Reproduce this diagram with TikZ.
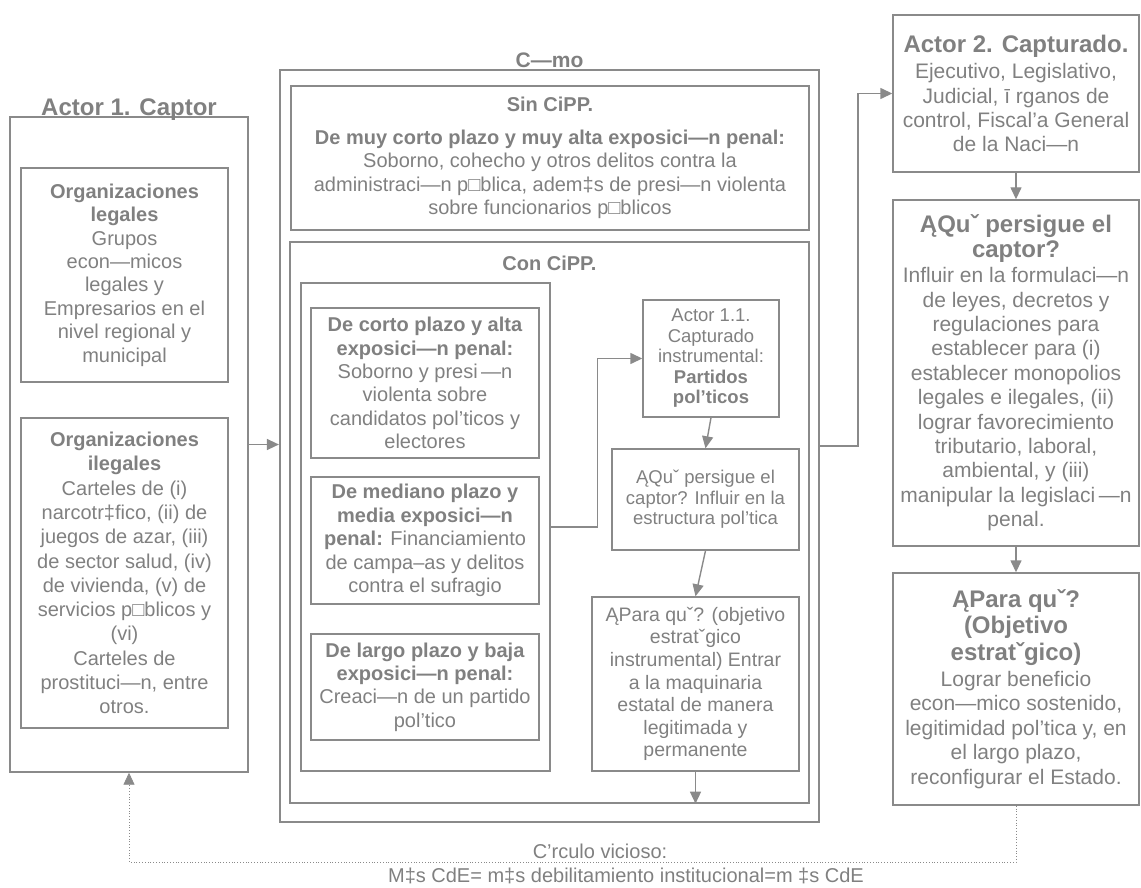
\documentclass[tikz,border=0pt]{standalone}
\usepackage{fontspec}
\setmainfont{Liberation Sans}
\usetikzlibrary{arrows.meta,positioning,calc}

\definecolor{tgris}{HTML}{808080}
\definecolor{lgris}{HTML}{8A8A8A}
\newcommand{\cuerpo}{\fontsize{20}{23.4}\selectfont}
\newcommand{\cuerpoan}{\fontsize{20}{24.3}\selectfont}
\newcommand{\chico}{\fontsize{18.5}{20.5}\selectfont}
\newcommand{\medio}{\fontsize{19.5}{22.6}\selectfont}
\newcommand{\dere}{\fontsize{21}{24.4}\selectfont}
\newcommand{\titgr}{\bfseries\fontsize{24}{26}\selectfont}

\begin{document}
\begin{tikzpicture}[x=1pt,y=-1pt,
  caja/.style={draw=lgris, line width=1.4pt, inner sep=0pt, align=center, text=tgris, font=\cuerpo},
  titulo/.style={text=tgris, inner sep=0pt, anchor=base},
  flecha/.style={draw=lgris, line width=1.4pt, -{Triangle[length=12pt,width=11pt]}},
  punteada/.style={draw=lgris, line width=0.8pt, dotted, -{Triangle[length=12pt,width=11pt]}}]

 \useasboundingbox (0,0) rectangle (1141,888);

 % Actor 1
 \node[caja, minimum width=238, minimum height=655] (actor1) at (129,444.5) {};
 \node[titulo, font=\titgr] (titactor1) at (129,116) {Actor 1. Captor};
 \node[caja, minimum width=207, minimum height=214] (legales) at (124.5,275)
  {\textbf{Organizaciones}\\\textbf{legales}\\Grupos\\econ—micos\\legales y\\Empresarios en el\\nivel regional y\\municipal};
 \node[caja, font=\cuerpoan, minimum width=207, minimum height=310] (ilegales) at (124.5,573)
  {\textbf{Organizaciones}\\\textbf{ilegales}\\Carteles de (i)\\narcotr‡fico, (ii) de\\juegos de azar, (iii)\\de sector salud, (iv)\\de vivienda, (v) de\\servicios p□blicos y\\(vi)\\Carteles de\\prostituci—n, entre\\otros.};

 % Como
 \node[caja, line width=2.2pt, minimum width=539, minimum height=752] (como) at (549.5,446) {};
 \node[titulo, font=\bfseries\fontsize{21}{24}\selectfont] (titcomo) at (549.5,68) {C—mo};
 \node[caja, minimum width=518, minimum height=144] (sincipp) at (550,158)
  {\textbf{Sin CiPP.}\\[9pt]\textbf{De muy corto plazo y muy alta exposici—n penal:}\\Soborno, cohecho y otros delitos contra la\\administraci—n p□blica, adem‡s de presi—n violenta\\sobre funcionarios p□blicos};
 \node[caja, minimum width=519, minimum height=561] (concipp) at (549.5,522.5) {};
 \node[titulo, font=\bfseries\cuerpo] (titcon) at (549.5,270) {Con CiPP.};

 \node[caja, minimum width=249, minimum height=488] (grupo) at (425.5,527) {};
 \node[caja, minimum width=228, minimum height=150] (corto) at (425,383)
  {\textbf{De corto plazo y alta}\\\textbf{exposici—n penal:}\\Soborno y presi\,—n\\violenta sobre\\candidatos pol’ticos y\\electores};
 \node[caja, minimum width=228, minimum height=127] (mediano) at (425,540.5)
  {\textbf{De mediano plazo y}\\\textbf{media exposici—n}\\\textbf{penal:} Financiamiento\\de campa–as y delitos\\contra el sufragio};
 \node[caja, minimum width=228, minimum height=106] (largo) at (425,687)
  {\textbf{De largo plazo y baja}\\\textbf{exposici—n penal:}\\Creaci—n de un partido\\pol’tico};

 \node[caja, font=\chico, minimum width=136, minimum height=117] (actor11) at (711,358.5)
  {Actor 1.1.\\Capturado\\instrumental:\\\textbf{Partidos}\\\textbf{pol’ticos}};
 \node[caja, font=\chico, minimum width=187, minimum height=101] (quecap) at (705.5,499.5)
  {ĄQuˇ persigue el\\captor? Influir en la\\estructura pol’tica};
 \node[caja, font=\medio, minimum width=207, minimum height=174] (paracap) at (695.5,684)
  {ĄPara quˇ? (objetivo\\estratˇgico\\instrumental) Entrar\\a la maquinaria\\estatal de manera\\legitimada y\\permanente};

 % Actor 2
 \node[caja, font=\dere, minimum width=246, minimum height=157] (actor2) at (1016,93.5)
  {{\titgr Actor 2. Capturado.}\\[2pt]Ejecutivo, Legislativo,\\Judicial, ī rganos de\\control, Fiscal’a General\\de la Naci—n};
 \node[caja, font=\dere, minimum width=246, minimum height=346] (quepers) at (1016,373)
  {{\titgr ĄQuˇ persigue el}\\{\titgr captor?}\\[1pt]Influir en la formulaci—n\\de leyes, decretos y\\regulaciones para\\establecer para (i)\\establecer monopolios\\legales e ilegales, (ii)\\lograr favorecimiento\\tributario, laboral,\\ambiental, y (iii)\\manipular la legislaci\,—n\\penal.};
 \node[caja, font=\dere, minimum width=246, minimum height=232] (parafin) at (1016,689)
  {{\titgr ĄPara quˇ?}\\[2pt]{\titgr (Objetivo}\\[2pt]{\titgr estratˇgico)}\\[2pt]Lograr beneficio\\econ—mico sostenido,\\legitimidad pol’tica y, en\\el largo plazo,\\reconfigurar el Estado.};

 % circulo vicioso
 \coordinate (lazo) at (600,862);
 \node[text=tgris, font=\cuerpo, inner sep=0pt] (circulo) at (600,851) {C’rculo vicioso:};
 \node[text=tgris, font=\cuerpo, inner sep=0pt] (ecuacion) at (626,876) {M‡s CdE= m‡s debilitamiento institucional=m ‡s CdE};

 % conectores
 \draw[flecha] (actor1.east) -- (actor1.east -| como.west);
 \draw[flecha] (como.east) -- ++(38,0) |- (actor2.west);
 \draw[flecha] (grupo.east) -- ++(47,0) |- (actor11.west);
 \draw[flecha] (actor11.south) -- (quecap.north);
 \draw[flecha] (quecap.south) -- (paracap.north);
 \draw[flecha] (paracap.south) -- (paracap.south |- concipp.south);
 \draw[flecha] (actor2.south) -- (quepers.north);
 \draw[flecha] (quepers.south) -- (parafin.north);
 \draw[punteada] (parafin.south) -- (parafin.south |- lazo) -| (actor1.south);
\end{tikzpicture}
\end{document}
